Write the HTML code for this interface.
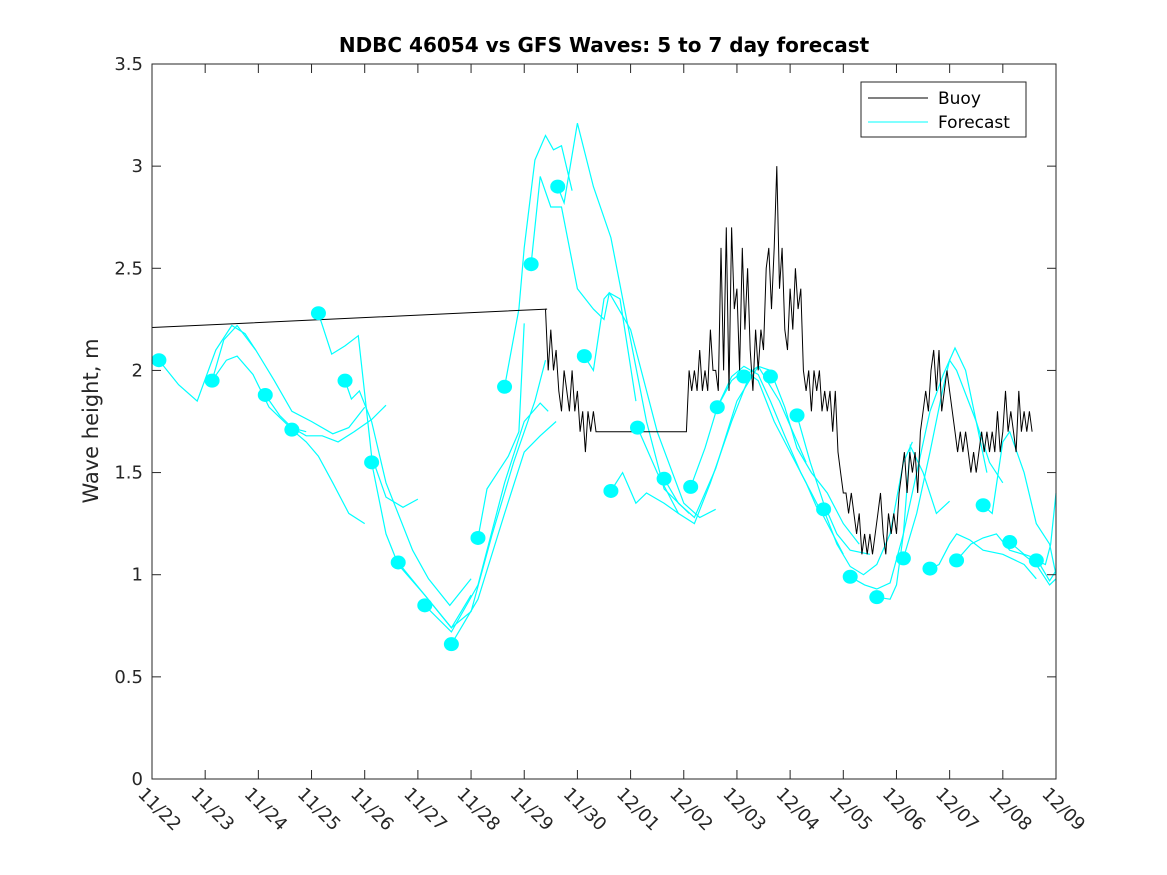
<!DOCTYPE html>
<html><head><meta charset="utf-8"><style>
body{margin:0;background:#fff;}
svg{display:block;font-family:"DejaVu Sans","Liberation Sans",sans-serif;}
</style></head><body>
<svg id="chart" width="1167" height="875" viewBox="0 0 1167 875">
<rect width="1167" height="875" fill="#fff"/>
<text x="604" y="52" text-anchor="middle" font-size="20" font-weight="bold" fill="#000">NDBC 46054 vs GFS Waves: 5 to 7 day forecast</text>
<text transform="translate(98,421) rotate(-90)" text-anchor="middle" font-size="21" fill="#262626">Wave height, m</text>
<g id="plot"></g>
<g id="axes"></g>
<g id="legend">
<rect x="861" y="82" width="165" height="55" fill="#fff" stroke="#262626" stroke-width="1"/>
<line x1="868" y1="98" x2="928" y2="98" stroke="#000" stroke-width="1"/>
<text x="938" y="104" font-size="17" fill="#000">Buoy</text>
<line x1="868" y1="122" x2="928" y2="122" stroke="#00ffff" stroke-width="1"/>
<text x="938" y="128" font-size="17" fill="#000">Forecast</text>
</g>
</svg>
<script>
const xTickLabels=["11/22","11/23","11/24","11/25","11/26","11/27","11/28","11/29","11/30","12/01","12/02","12/03","12/04","12/05","12/06","12/07","12/08","12/09"];
const yTickValues=[0,0.5,1,1.5,2,2.5,3,3.5];
const dotDays=[0.13,1.13,2.13,2.63,3.13,3.63,4.13,4.63,5.13,5.63,6.13,6.63,7.13,7.63,8.13,8.63,9.13,9.63,10.13,10.63,11.13,11.63,12.13,12.63,13.13,13.63,14.13,14.63,15.13,15.63,16.13,16.63];
const dotValues=[2.05,1.95,1.88,1.71,2.28,1.95,1.55,1.06,0.85,0.66,1.18,1.92,2.52,2.90,2.07,1.41,1.72,1.47,1.43,1.82,1.97,1.97,1.78,1.32,0.99,0.89,1.08,1.03,1.07,1.34,1.16,1.07];
const segDays=[
[0.13,0.5,0.85,1.2,1.5,1.75,1.95],
[1.13,1.4,1.6,1.9,2.2,2.6,2.9,3.1],
[1.13,1.35,1.6,1.95,2.3,2.63,3.0,3.4,3.7,4.0],
[2.13,2.4,2.63,2.9,3.2,3.5,3.8,4.13,4.4],
[2.63,2.9,3.13,3.4,3.7,4.0],
[3.13,3.38,3.63,3.88,4.13,4.4,4.72,5.0],
[3.63,3.75,3.9,4.13,4.4,4.9,5.2,5.6,6.0],
[4.13,4.4,4.63,5.13,5.63,6.0],
[4.63,5.13,5.63,6.0,6.4,6.8,7.2,7.4],
[5.13,5.63,6.13,6.63,7.0,7.3,7.45],
[5.63,6.13,6.63,7.0,7.3,7.6],
[6.13,6.3,6.5,6.7,6.9,7.0],
[6.63,6.9,7.0,7.2,7.4,7.55,7.7,7.9],
[7.13,7.3,7.5,7.7,8.0,8.3,8.5,8.6,8.8,9.1],
[7.63,7.75,8.0,8.3,8.63,9.0,9.3,9.63,10.1],
[8.13,8.3,8.5,8.6,9.0,9.5,10.0,10.3,10.6],
[8.63,8.85,9.1,9.3,9.63,9.9],
[9.13,9.5,9.9,10.2,10.5,10.9,11.2],
[9.63,9.9,10.2,10.6,11.0,11.4,11.8,12.3],
[10.13,10.4,10.63,10.9,11.13,11.4,11.7,12.0,12.3,12.5],
[10.63,10.9,11.13,11.4,11.63,11.9,12.2,12.5,12.8,13.0],
[11.13,11.4,11.63,11.9,12.13,12.4,12.7,13.0,13.3],
[12.13,12.38,12.63,12.88,13.13,13.5],
[12.63,12.88,13.13,13.38,13.63,13.88,14.13,14.3],
[13.13,13.4,13.63,13.88,14.13,14.38,14.63,14.88,15.1,15.3,15.5,15.7],
[13.63,13.88,14.0,14.13,14.26,14.5,14.75,15.0],
[14.13,14.38,14.63,14.88,15.0,15.13,15.5,15.75,16.0],
[14.63,14.8,15.0,15.13,15.38,15.63,16.0,16.4,16.63],
[15.13,15.4,15.63,15.88,16.13,16.38,16.63,16.88,17.0],
[15.63,15.8,16.0,16.13,16.4,16.63,16.88,17.0],
[16.13,16.4,16.63,16.88,17.0],
[16.63,16.8,16.9,17.0]];
const segValues=[
[2.05,1.93,1.85,2.1,2.22,2.18,2.1],
[1.95,2.05,2.07,1.98,1.82,1.72,1.7],
[1.95,2.15,2.22,2.1,1.95,1.8,1.75,1.69,1.72,1.82],
[1.88,1.78,1.72,1.68,1.68,1.65,1.7,1.76,1.83],
[1.71,1.65,1.58,1.45,1.3,1.25],
[2.28,2.08,2.12,2.17,1.58,1.38,1.33,1.37],
[1.95,1.86,1.9,1.75,1.45,1.12,0.98,0.85,0.98],
[1.55,1.2,1.05,0.9,0.74,0.9],
[1.06,0.9,0.74,0.82,1.2,1.55,1.85,2.05],
[0.85,0.72,0.95,1.45,1.75,1.84,1.8],
[0.66,0.88,1.3,1.6,1.68,1.75],
[1.18,1.42,1.5,1.58,1.7,2.23],
[1.92,2.3,2.6,3.03,3.15,3.08,3.1,2.88],
[2.52,2.95,2.8,2.8,2.4,2.3,2.25,2.38,2.35,1.85],
[2.9,2.82,3.21,2.9,2.65,2.15,1.75,1.42,1.3],
[2.07,2.0,2.35,2.38,2.2,1.7,1.35,1.28,1.32],
[1.41,1.5,1.35,1.4,1.35,1.3],
[1.72,1.5,1.3,1.25,1.45,1.75,1.95],
[1.47,1.35,1.28,1.52,1.85,2.02,1.85,1.55],
[1.43,1.62,1.82,1.95,2.0,1.95,1.75,1.6,1.45,1.33],
[1.82,1.97,2.02,1.98,1.85,1.68,1.5,1.35,1.2,1.1],
[1.97,2.02,2.0,1.82,1.62,1.5,1.4,1.25,1.15],
[1.78,1.55,1.35,1.2,1.12,1.1],
[1.32,1.15,1.04,1.0,1.05,1.2,1.55,1.65],
[0.99,0.95,0.93,0.96,1.2,1.5,1.8,1.98,2.11,2.0,1.75,1.5],
[0.89,0.88,0.95,1.2,1.63,1.5,1.3,1.36],
[1.08,1.3,1.6,1.92,2.05,2.0,1.75,1.55,1.45],
[1.03,1.05,1.15,1.2,1.17,1.12,1.1,1.05,0.98],
[1.07,1.15,1.18,1.2,1.12,1.1,1.05,0.95,0.98],
[1.34,1.3,1.65,1.7,1.5,1.25,1.15,1.0],
[1.16,1.1,1.08,0.97,1.02],
[1.07,1.05,1.15,1.4]];
const buoyStartDays=[0,7.43];
const buoyStartValues=[2.21,2.3];
const buoyNoisyStart=7.4;
const buoyValues=[
2.3,2.0,2.2,2.0,2.1,1.9,1.8,2.0,1.9,1.8,2.0,1.8,1.9,1.7,1.8,1.6,1.8,1.7,1.8,1.7,
1.7,1.7,1.7,1.7,1.7,1.7,1.7,1.7,1.7,1.7,1.7,1.7,1.7,1.7,1.7,1.7,1.7,1.7,1.7,1.7,1.7,1.7,1.7,1.7,1.7,1.7,1.7,1.7,1.7,1.7,1.7,1.7,1.7,1.7,
2.0,1.9,2.0,1.9,2.1,1.9,2.0,1.9,2.2,2.0,2.0,1.9,2.6,2.0,2.7,1.9,2.7,2.3,2.4,2.0,2.6,2.2,2.5,2.1,1.9,2.2,2.0,2.2,2.1,2.5,2.6,2.3,2.6,3.0,2.4,2.6,2.2,2.1,2.4,2.2,2.5,2.3,2.4,2.0,1.9,2.0,1.8,2.0,1.9,2.0,1.8,1.9,
1.8,1.9,1.7,1.9,1.6,1.5,1.4,1.4,1.3,1.4,1.3,1.2,1.3,1.1,1.2,1.1,1.2,1.1,1.2,1.3,1.4,1.2,1.1,1.3,1.2,1.3,1.2,1.4,1.5,1.6,1.4,1.6,
1.5,1.6,1.4,1.7,1.8,1.9,1.8,2.0,2.1,1.9,2.1,1.8,1.9,2.0,1.9,1.8,1.7,1.6,1.7,1.6,1.7,1.6,1.5,1.6,1.5,1.6,1.7,1.6,1.7,1.6,1.7,1.6,1.8,1.6,1.7,1.9,1.7,1.8,1.7,1.6,1.9,1.7,1.8,1.7,1.8,1.7];
const buoyStep=0.05;

const X0=152,X1=1056,Y0=779,Y1=64,NS="http://www.w3.org/2000/svg";
const xs=d=>X0+(X1-X0)*d/17;
const ys=v=>Y0-(Y0-Y1)*v/3.5;
const plot=document.getElementById('plot'),axes=document.getElementById('axes');
function mk(tag,attrs,parent){const e=document.createElementNS(NS,tag);for(const k in attrs)e.setAttribute(k,attrs[k]);parent.appendChild(e);return e;}

segDays.forEach((ds,i)=>{
  const p=mk('polyline',{points:ds.map((d,j)=>xs(d).toFixed(1)+','+ys(segValues[i][j]).toFixed(1)).join(' '),fill:'none',stroke:'#00ffff','stroke-width':1.2},plot);
  
  
});
const bpts=[[buoyStartDays[0],buoyStartValues[0]],[buoyStartDays[1],buoyStartValues[1]]];
buoyValues.forEach((v,i)=>{bpts.push([buoyNoisyStart+buoyStep*i,v]);});
const bl=mk('polyline',{points:bpts.map(p=>xs(p[0]).toFixed(1)+','+ys(p[1]).toFixed(1)).join(' '),fill:'none',stroke:'#000','stroke-width':1},plot);


dotDays.forEach((d,i)=>{
  const c=mk('ellipse',{cx:xs(d),cy:ys(dotValues[i]),rx:7.5,ry:7,fill:'#00ffff'},plot);
  
  
});
mk('rect',{x:X0,y:Y1,width:X1-X0,height:Y0-Y1,fill:'none',stroke:'#262626','stroke-width':1},axes);
xTickLabels.forEach((t,i)=>{
  const x=xs(i);
  mk('line',{x1:x,y1:Y0,x2:x,y2:Y0-9,stroke:'#262626'},axes);
  mk('line',{x1:x,y1:Y1,x2:x,y2:Y1+9,stroke:'#262626'},axes);
  const tx=mk('text',{transform:`translate(${x-15},${Y0+16}) rotate(45)`,'font-size':18,fill:'#262626'},axes);
  tx.textContent=t;
  
  
});
yTickValues.forEach(v=>{
  const y=ys(v);
  mk('line',{x1:X0,y1:y,x2:X0+9,y2:y,stroke:'#262626'},axes);
  mk('line',{x1:X1,y1:y,x2:X1-9,y2:y,stroke:'#262626'},axes);
  const tx=mk('text',{x:X0-9,y:y+6,'text-anchor':'end','font-size':18,fill:'#262626'},axes);
  tx.textContent=String(v);
  
  
});
</script>
</body></html>
